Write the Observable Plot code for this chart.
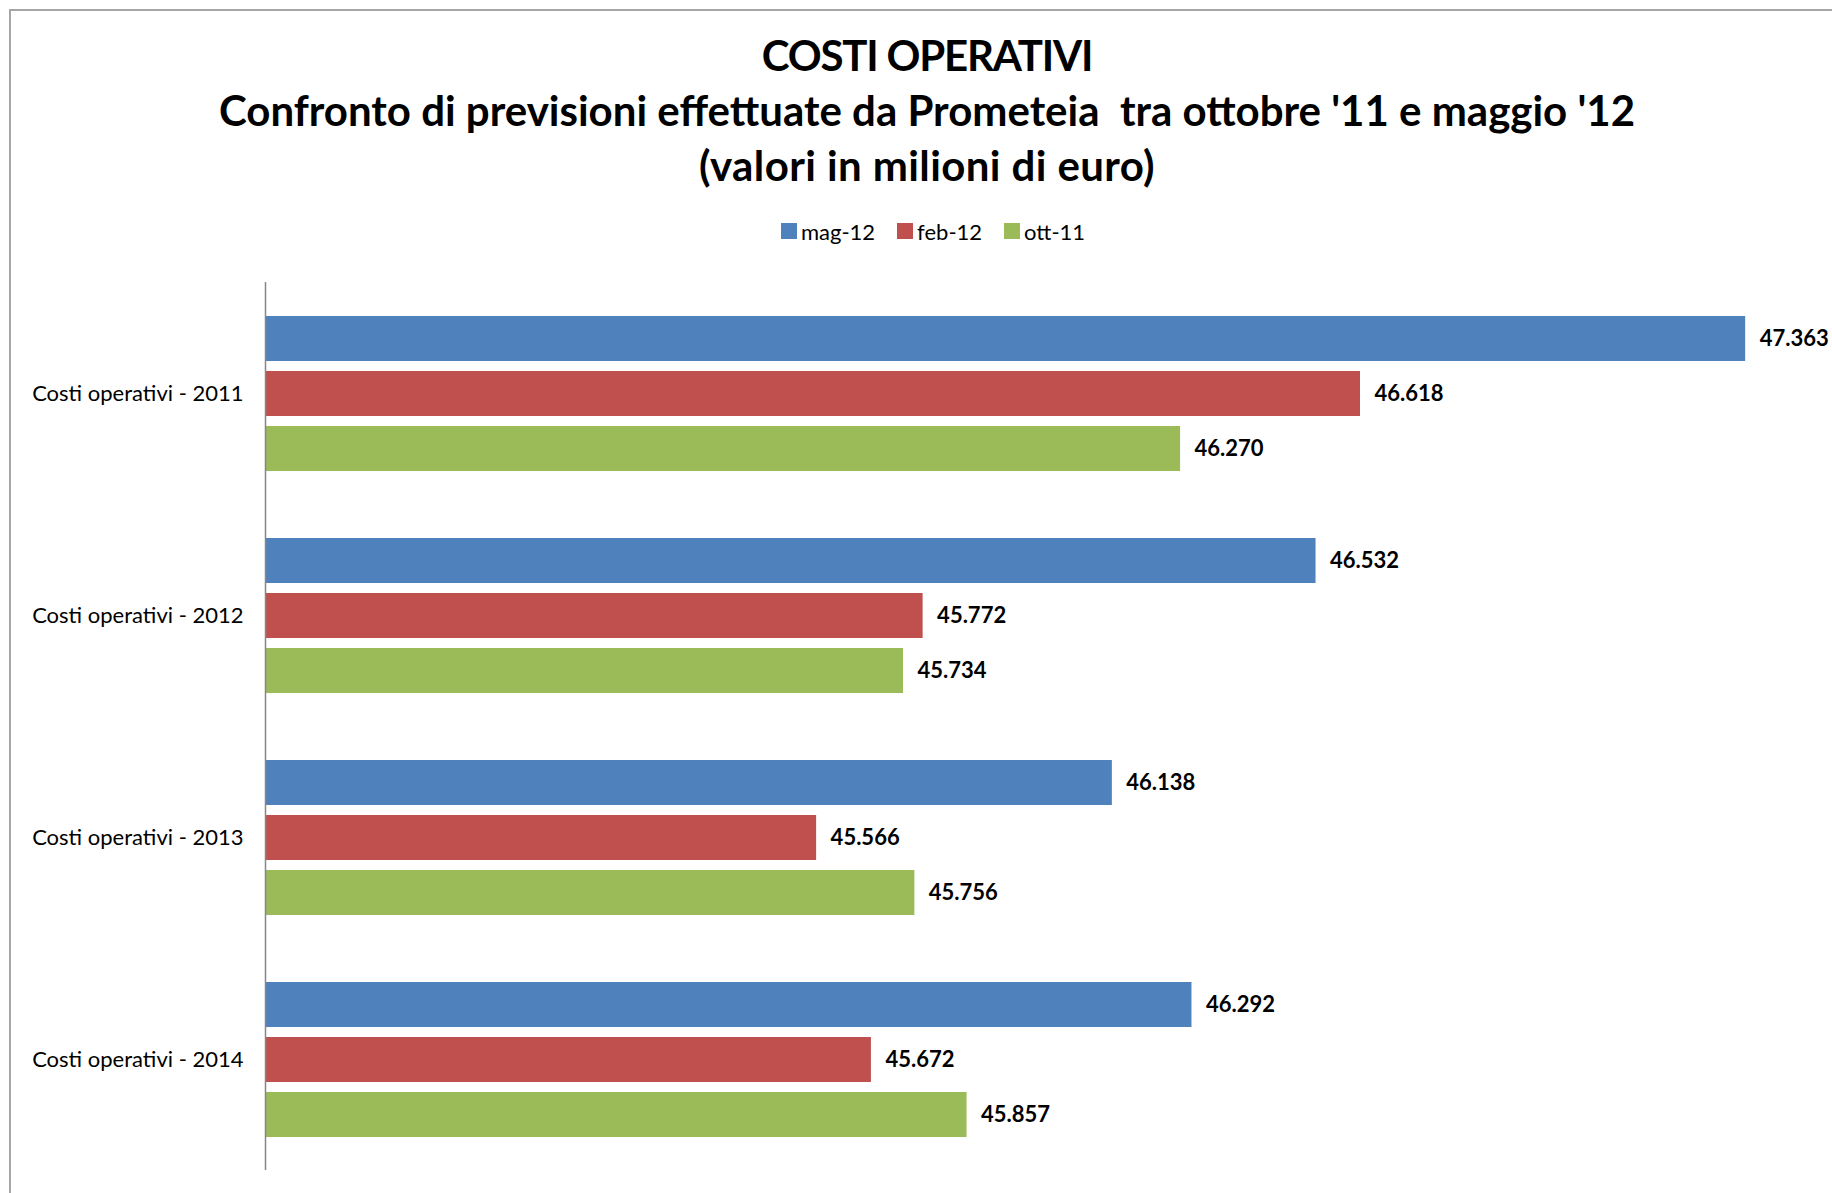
<!DOCTYPE html>
<html>
<head>
<meta charset="utf-8">
<script src="https://cdn.jsdelivr.net/npm/d3@7"></script>
<script src="https://cdn.jsdelivr.net/npm/@observablehq/plot@0.6"></script>
<style>
  html, body { margin: 0; padding: 0; background: #fff; width: 1832px; height: 1193px; overflow: hidden; position: relative; font-family: Lato, "Open Sans", sans-serif; }
  #frame { position: absolute; left: 9px; top: 9px; width: 2000px; height: 2000px; border-left: 2px solid #a6a6a6; border-top: 2px solid #a6a6a6; }
  #title { position: absolute; left: 0; top: 28px; width: 1854px; text-align: center; font-weight: bold; font-size: 42px; line-height: 55px; color: #000; }
  #title .l1 { letter-spacing: -1.2px; }
  #title .l3 { letter-spacing: 0.4px; }
  #legend { position: absolute; left: 0; top: 219px; width: 1888px; height: 24px; display: flex; justify-content: center; align-items: center; }
  #legend .lg-swatches { font-family: Lato, sans-serif; font-size: 22px; color: #000; margin: 0; min-height: 0; display: flex; align-items: center; }
  #legend .lg-swatch { margin-right: 22px; display: inline-flex; align-items: center; }
  #legend .lg-swatch > svg { margin-right: 4px; }
  #chart { position: absolute; left: 0; top: 270px; }
</style>
</head>
<body>
<div id="frame"></div>
<div id="title">
  <div class="l1">COSTI OPERATIVI</div>
  <div>Confronto di previsioni effettuate da Prometeia&nbsp; tra ottobre '11 e maggio '12</div>
  <div class="l3">(valori in milioni di euro)</div>
</div>
<div id="legend"></div>
<div id="chart"></div>
<script>
const categories = ["Costi operativi - 2011", "Costi operativi - 2012", "Costi operativi - 2013", "Costi operativi - 2014"];
const series = ["mag-12", "feb-12", "ott-11"];
const mag12 = [47363, 46532, 46138, 46292];
const feb12 = [46618, 45772, 45566, 45672];
const ott11 = [46270, 45734, 45756, 45857];
const colors = ["#4F81BD", "#C0504D", "#9BBB59"];
const xMin = 44500, xMax = 47500;

const seriesValues = [mag12, feb12, ott11];
const data = categories.flatMap((c, i) => series.map((s, j) => ({category: c, series: s, value: seriesValues[j][i]})));

const it = d3.formatLocale({decimal: ",", thousands: ".", grouping: [3], currency: ["€", ""]});
const fmt = it.format(",d");

const chart = Plot.plot({
  width: 1832,
  height: 923,
  marginLeft: 265,
  marginRight: 16,
  marginTop: 11,
  marginBottom: 22,
  x: {domain: [xMin, xMax], axis: null},
  y: {domain: series, axis: null, paddingInner: 0.19, paddingOuter: 0.6},
  fy: {domain: categories, padding: 0, label: null, axis: null},
  color: {domain: series, range: colors},
  style: {fontFamily: "Lato, sans-serif", fontSize: "22px", color: "#000", overflow: "visible", background: "transparent"},
  marks: [
    Plot.barX(data, {x1: d => xMin, x2: "value", y: "series", fy: "category", fill: "series"}),
    Plot.text(data, {x: "value", y: "series", fy: "category", text: d => fmt(d.value), textAnchor: "start", dx: 14, fontWeight: "bold", fontSize: 22, fill: "#000"}),
    Plot.axisFy({anchor: "left", tickSize: 0, tickPadding: 22, fontSize: 22, label: null, fill: "#000"}),
    Plot.ruleX([xMin], {stroke: "#868686", strokeWidth: 1.5})
  ]
});
document.getElementById("chart").appendChild(chart);

const legend = Plot.legend({
  color: {domain: series, range: colors},
  legend: "swatches",
  swatchSize: 16,
  className: "lg"
});
document.getElementById("legend").appendChild(legend);
</script>
</body>
</html>
